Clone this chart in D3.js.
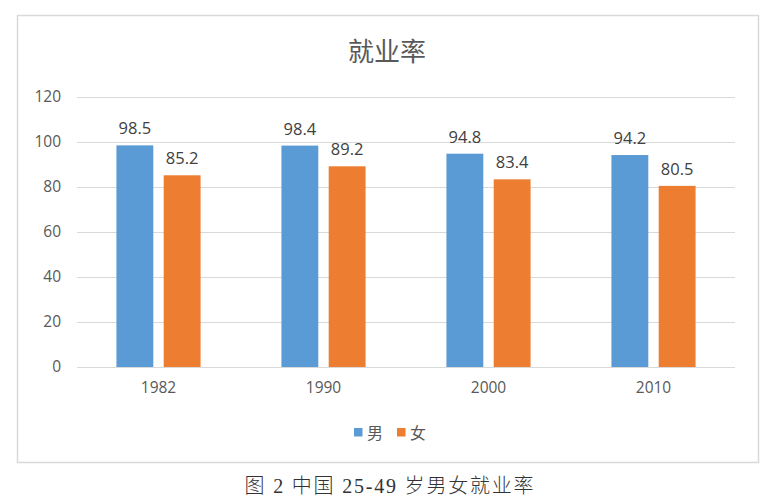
<!DOCTYPE html>
<html><head><meta charset="utf-8">
<script src="https://cdn.jsdelivr.net/npm/d3@7"></script>
<style>
html,body{margin:0;padding:0;background:#fff;}
svg{display:block;}
</style></head>
<body>
<svg id="chart" width="768" height="500"></svg>
<script>
const categories = ["1982", "1990", "2000", "2010"];
const seriesNames = ["男", "女"];
const maleValues = [98.5, 98.4, 94.8, 94.2];
const femaleValues = [85.2, 89.2, 83.4, 80.5];
const yTicks = [0, 20, 40, 60, 80, 100, 120];
const colors = ["#5B9BD5", "#ED7D31"];
const title = "就业率";
const caption = "图 2 中国 25-49 岁男女就业率";

const svg = d3.select("#chart");
const latin = "'Open Sans', 'Noto Sans', sans-serif";
const cjk = "'Noto Sans CJK SC', sans-serif";

// outer box
svg.append("rect").attr("x", 17.5).attr("y", 15.5).attr("width", 741).attr("height", 447)
  .attr("fill", "#fff").attr("stroke", "#d9d9d9").attr("stroke-width", 1.5);

const x0 = d3.scaleBand().domain(categories).range([76, 736]).paddingInner(0.49).paddingOuter(0.245);
const x1 = d3.scaleBand().domain(seriesNames).range([0, x0.bandwidth()]).paddingInner(0.22);
const y = d3.scaleLinear().domain([0, 120]).range([367, 97]);

// gridlines
svg.append("g").selectAll("line").data(yTicks).join("line")
  .attr("x1", 77).attr("x2", 735)
  .attr("y1", d => y(d) + 0.5).attr("y2", d => y(d) + 0.5)
  .attr("stroke", "#d9d9d9").attr("stroke-width", 1.2);

// y axis labels
const yAxis = d3.axisLeft(y).tickValues(yTicks).tickSize(0).tickPadding(0);
const gy = svg.append("g").attr("transform", "translate(61,0)").call(yAxis);
gy.select(".domain").remove();
gy.selectAll("text").attr("font-family", latin).attr("font-size", 15.5).attr("fill", "#595959");

// x axis labels
const xAxis = d3.axisBottom(x0).tickSize(0).tickPadding(0);
const gx = svg.append("g").attr("transform", "translate(0,382)").call(xAxis);
gx.select(".domain").remove();
gx.selectAll("text").attr("font-family", latin).attr("font-size", 15.5).attr("fill", "#595959");

const data = categories.map((c, i) => ({cat: c, vals: [
  {s: seriesNames[0], v: maleValues[i], c: colors[0]},
  {s: seriesNames[1], v: femaleValues[i], c: colors[1]}]}));

const groups = svg.append("g").selectAll("g").data(data).join("g")
  .attr("transform", d => `translate(${x0(d.cat)},0)`);
groups.selectAll("rect").data(d => d.vals).join("rect")
  .attr("x", d => x1(d.s)).attr("width", x1.bandwidth())
  .attr("y", d => y(d.v)).attr("height", d => y(0) - y(d.v))
  .attr("fill", d => d.c);
groups.selectAll("text").data(d => d.vals).join("text")
  .attr("x", d => x1(d.s) + x1.bandwidth() / 2)
  .attr("y", d => y(d.v) - 11)
  .attr("text-anchor", "middle")
  .attr("font-family", latin).attr("font-size", 16.5).attr("fill", "#404040")
  .text(d => d.v.toFixed(1));

// title
svg.append("text").attr("x", 387).attr("y", 61).attr("text-anchor", "middle")
  .attr("font-family", cjk).attr("font-size", 26).attr("fill", "#595959").text(title);

// legend
const legend = svg.append("g");
const legX = [354, 397];
seriesNames.forEach((s, i) => {
  legend.append("rect").attr("x", legX[i]).attr("y", 428).attr("width", 8.5).attr("height", 8.5).attr("fill", colors[i]);
  legend.append("text").attr("x", legX[i] + 13).attr("y", 438.5)
    .attr("font-family", cjk).attr("font-size", 16).attr("fill", "#595959").text(s);
});

// caption
svg.append("text").attr("x", 390).attr("y", 493).attr("text-anchor", "middle")
  .attr("font-family", "'Liberation Serif', 'Noto Sans CJK SC', serif")
  .attr("font-weight", 300).attr("letter-spacing", 1.8)
  .attr("font-size", 20).attr("fill", "#333").text(caption);
</script>
</body></html>
